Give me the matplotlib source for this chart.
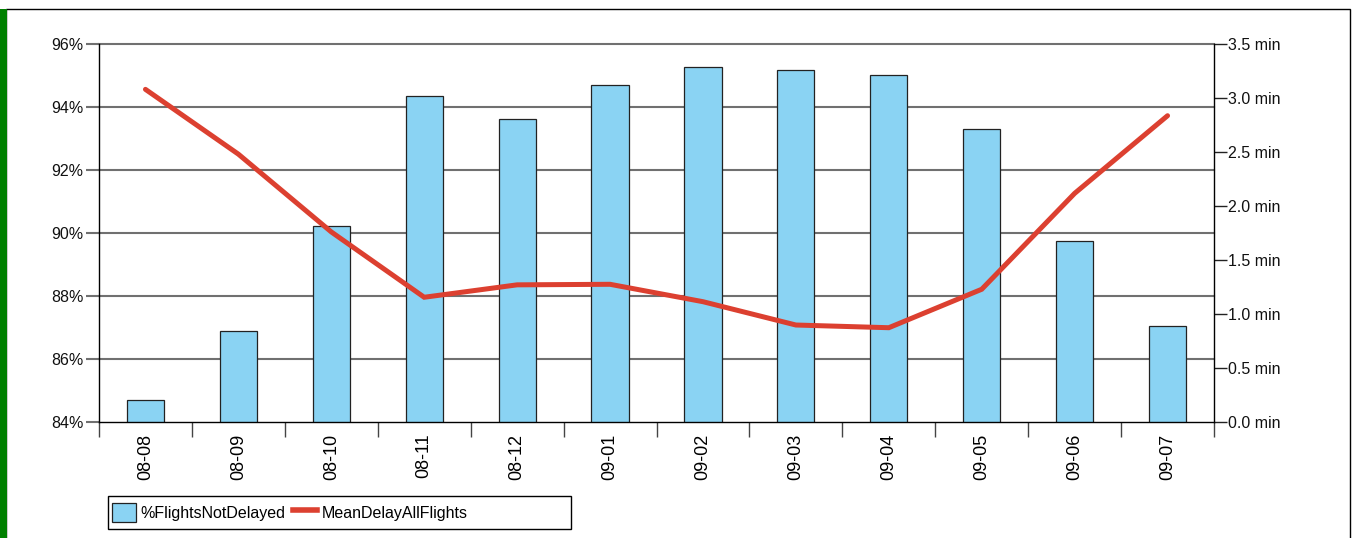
import matplotlib
matplotlib.use("Agg")
import matplotlib.pyplot as plt
from matplotlib.patches import Rectangle, Patch
from matplotlib.lines import Line2D
import numpy as np

plt.rcParams['font.family'] = ['Liberation Sans', 'DejaVu Sans']

categories = ["08-08", "08-09", "08-10", "08-11", "08-12", "09-01",
              "09-02", "09-03", "09-04", "09-05", "09-06", "09-07"]
pct_not_delayed = [84.70, 86.90, 90.21, 94.36, 93.62, 94.70,
                   95.28, 95.17, 95.02, 93.29, 89.76, 87.04]
mean_delay = [3.08, 2.48, 1.76, 1.155, 1.27, 1.275,
              1.114, 0.898, 0.873, 1.229, 2.117, 2.836]
left_ticks = [84, 86, 88, 90, 92, 94, 96]
right_ticks = [0.0, 0.5, 1.0, 1.5, 2.0, 2.5, 3.0, 3.5]

W, H = 1357, 538
fig = plt.figure(figsize=(W / 100, H / 100), dpi=100)

def fx(px):
    return px / W

def fy(py):
    return 1 - py / H

# outer frame and green bar
fig.patches.append(Rectangle((fx(6), fy(545)), fx(1350) - fx(6), fy(9) - fy(545),
                             transform=fig.transFigure, fill=False,
                             edgecolor='black', linewidth=1.0))
fig.patches.append(Rectangle((0, 0), fx(6.5), fy(9),
                             transform=fig.transFigure, facecolor='#008000',
                             edgecolor='none'))

ax = fig.add_axes([fx(99), fy(422), fx(1214) - fx(99), fy(44) - fy(422)])
x = np.arange(len(categories))

grid_color = '#707070'
ax.set_ylim(84, 96)
ax.set_yticks(left_ticks)
ax.set_yticklabels([f"{t}%" for t in left_ticks], fontsize=11.5)
for t in left_ticks[1:]:
    ax.axhline(t, color=grid_color, linewidth=1.5, zorder=0.5, clip_on=False)
ax.tick_params(axis='y', length=9.5, width=1.5, color=grid_color, pad=1.5,
               labelcolor='#111111')

ax.bar(x, pct_not_delayed, width=0.4, color='#8ad3f3', edgecolor='#222222',
       linewidth=0.9, zorder=2)

ax.set_xlim(-0.5, len(categories) - 0.5)
ax.set_xticks(x)
ax.set_xticklabels(categories, rotation=90, fontsize=13, va='top', ha='center')
ax.set_xticks(np.arange(-0.5, len(categories), 1.0), minor=True)
ax.tick_params(axis='x', which='major', length=0, pad=8.5)
ax.tick_params(axis='x', which='minor', length=10.5, width=1, color='#444444')

ax.spines['top'].set_visible(False)
ax.spines['left'].set_linewidth(1.0)
ax.spines['bottom'].set_linewidth(1.0)
ax.spines['right'].set_visible(False)

ax2 = ax.twinx()
ax2.set_ylim(0, 3.5)
ax2.set_yticks(right_ticks)
ax2.set_yticklabels([f"{t:.1f} min" for t in right_ticks], fontsize=11.5)
ax2.tick_params(axis='y', length=9, width=1, color='#222222', pad=1,
                labelcolor='#111111')
ax2.spines['top'].set_visible(False)
ax2.spines['left'].set_visible(False)
ax2.spines['bottom'].set_visible(False)
ax2.spines['right'].set_linewidth(1.0)
ax2.plot(x, mean_delay, color='#dc4030', linewidth=3.6,
         solid_capstyle='round', solid_joinstyle='miter', zorder=3)

# legend
fig.patches.append(Rectangle((fx(108), fy(529)), fx(571) - fx(108), fy(496) - fy(529),
                             transform=fig.transFigure, fill=False,
                             edgecolor='black', linewidth=1.0))
handles = [Patch(facecolor='#8ad3f3', edgecolor='#222222', linewidth=0.9),
           Line2D([], [], color='#dc4030', linewidth=4)]
labels = ["%FlightsNotDelayed", "MeanDelayAllFlights"]
fig.legend(handles, labels, loc='center left',
           bbox_to_anchor=(fx(112), fy(512.5)), frameon=False, ncol=2,
           handlelength=1.5, handleheight=1.45, handletextpad=0.3,
           columnspacing=0.45, borderpad=0, borderaxespad=0, fontsize=11.5)

fig.savefig("out.png", dpi=100)
